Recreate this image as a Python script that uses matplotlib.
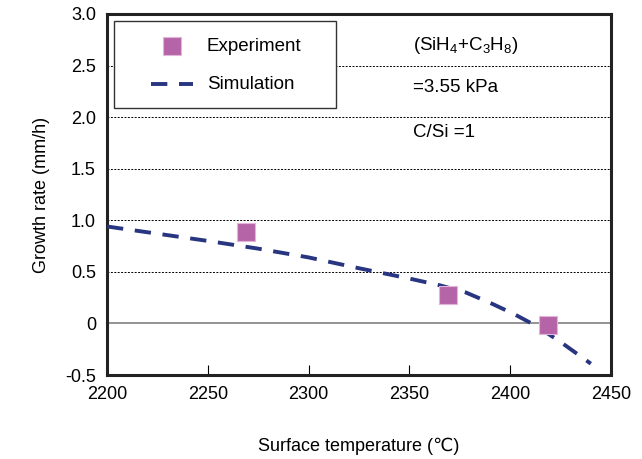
import numpy as np
import matplotlib
matplotlib.use('Agg')
import matplotlib.pyplot as plt
from matplotlib.patches import Rectangle

plt.rcParams['font.family'] = ['Liberation Sans', 'DejaVu Sans']
plt.rcParams['mathtext.default'] = 'regular'

# experiment points
exp_t = [2269, 2369, 2419]
exp_rate = [0.89, 0.275, -0.015]

# simulation curve
sim_t = [2200, 2225, 2250, 2275, 2300, 2325, 2350, 2365, 2378, 2390, 2402, 2413, 2425, 2440]
sim_rate = [0.94, 0.87, 0.80, 0.725, 0.64, 0.535, 0.435, 0.37, 0.30, 0.20, 0.09, -0.025, -0.18, -0.39]

yticks = [-0.5, 0, 0.5, 1.0, 1.5, 2.0, 2.5, 3.0]
ytick_labels = ['-0.5', '0', '0.5', '1.0', '1.5', '2.0', '2.5', '3.0']
xticks = [2200, 2250, 2300, 2350, 2400, 2450]

pink = '#B565A7'
navy = '#283580'
dash = (0, (4.2, 3.0))

fig = plt.figure(figsize=(6.42, 4.59), dpi=100)
ax = fig.add_axes([0.1667, 0.183, 0.785, 0.7865])

for y in [0.5, 1.0, 1.5, 2.0, 2.5]:
    ax.axhline(y, color='black', lw=0.7, ls=(0, (2, 1.5)), zorder=1)
ax.axhline(0, color='#808080', lw=1.2, zorder=1)

ax.plot(sim_t, sim_rate, color=navy, lw=2.8, ls=dash, zorder=3)
ax.scatter(exp_t, exp_rate, marker='s', s=170, color=pink,
           edgecolors='#E3B5DA', linewidths=0.8, zorder=4)

ax.set_xlim(2200, 2450)
ax.set_ylim(-0.5, 3.0)
ax.set_xticks(xticks)
ax.set_yticks(yticks)
ax.set_yticklabels(ytick_labels)
ax.tick_params(axis='x', direction='in', length=7, width=0.8, labelsize=13, pad=8)
ax.tick_params(axis='y', length=0, labelsize=13, pad=8)
for s in ax.spines.values():
    s.set_linewidth(2.2)
    s.set_color('#222222')

ax.set_xlabel('Surface temperature (\u2103)', fontsize=13, labelpad=25)
ax.set_ylabel('Growth rate (mm/h)', fontsize=13, labelpad=11)

# legend box drawn by hand
ax.add_patch(Rectangle((0.014, 0.740), 0.440, 0.241, transform=ax.transAxes,
                       facecolor='white', edgecolor='#333333', lw=1.0, zorder=5))
ax.plot([0.129], [0.911], marker='s', ms=13, color=pink, mec='#E3B5DA', mew=0.8,
        transform=ax.transAxes, zorder=6)
ax.plot([0.087, 0.171], [0.806, 0.806], color=navy, lw=2.8, ls=dash,
        transform=ax.transAxes, zorder=6)
ax.text(0.198, 0.911, 'Experiment', fontsize=13.5, va='center', transform=ax.transAxes, zorder=6)
ax.text(0.198, 0.806, 'Simulation', fontsize=13.5, va='center', transform=ax.transAxes, zorder=6)

ax.text(2352, 2.69, '(SiH$_4$+C$_3$H$_8$)', fontsize=13.5, va='center')
ax.text(2352, 2.29, '=3.55 kPa', fontsize=13.5, va='center')
ax.text(2352, 1.85, 'C/Si =1', fontsize=13.5, va='center')

fig.savefig('out.png', dpi=100)
